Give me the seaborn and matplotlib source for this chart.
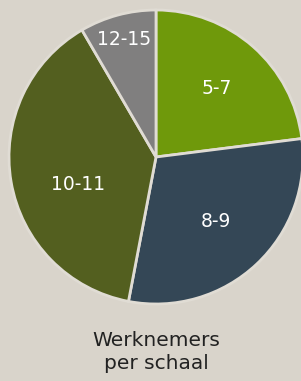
import numpy as np
import matplotlib
matplotlib.use("Agg")
import matplotlib.pyplot as plt
import seaborn as sns

# Data (share per salary scale, percent)
schalen = ["5-7", "8-9", "10-11", "12-15"]
aandeel = [23, 30, 38.6, 8.4]
kleuren = ["#6f990b", "#344756", "#535f1f", "#807f7f"]
label_afstand = [0.62, 0.60, 0.56, 0.83]
label_hoek_shift = [0, 0, 10, 0]

sns.set_style("white")
plt.rcParams["font.family"] = ["DejaVu Sans"]

bg = "#d9d4cb"
fig = plt.figure(figsize=(3.01, 3.81), dpi=100, facecolor=bg)

# Pie axes placed so the circle sits where it is in the reference
ax = fig.add_axes([9 / 301, (381 - 157 - 147) / 381, 294 / 301, 294 / 381])
ax.set_facecolor(bg)

wedges, _ = ax.pie(
    aandeel,
    colors=kleuren,
    startangle=90,
    counterclock=False,
    radius=1,
    wedgeprops=dict(edgecolor="#e0dcd4", linewidth=2),
)

# Labels inside each wedge
for w, lab, d, shift in zip(wedges, schalen, label_afstand, label_hoek_shift):
    mid = np.deg2rad((w.theta1 + w.theta2) / 2 + shift)
    ax.text(d * np.cos(mid), d * np.sin(mid), lab, color="white",
            fontsize=13.5, ha="center", va="center")

ax.set_xlim(-1, 1)
ax.set_ylim(-1, 1)
ax.set_aspect("equal")
ax.axis("off")

fig.text(156 / 301, 1 - 352 / 381, "Werknemers\nper schaal", ha="center",
         va="center", fontsize=14.5, color="#222222", linespacing=1.3)

fig.savefig("out.png", dpi=100, facecolor=bg)
